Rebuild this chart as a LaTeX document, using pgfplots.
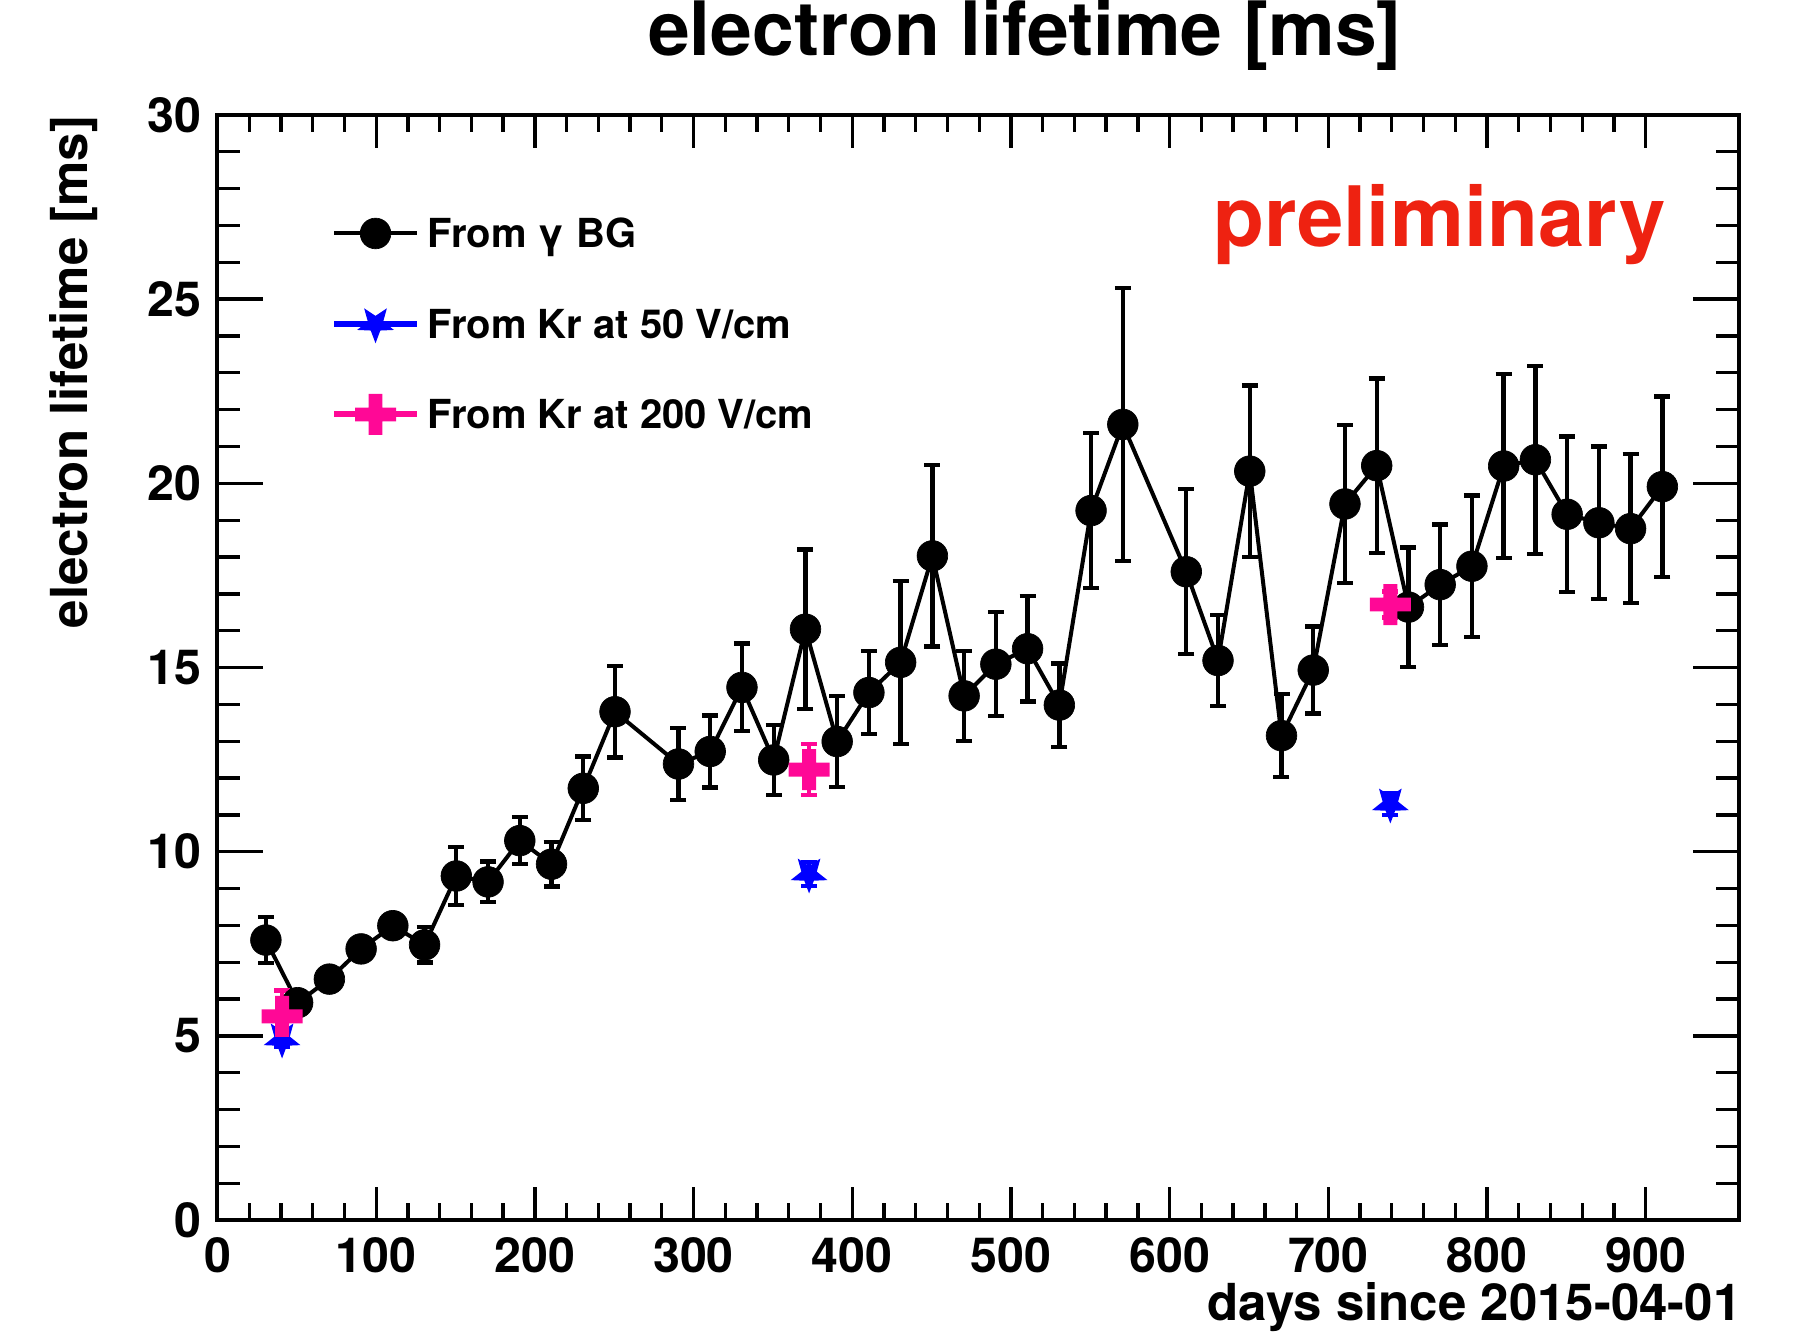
\documentclass[border=0pt]{standalone}
\usepackage{fontspec}
\setmainfont{TeX Gyre Heros}
\usepackage{pgfplots}
\usepackage{pgfplotstable}
\pgfplotsset{compat=1.18}

\definecolor{krblue}{RGB}{0,0,255}
\definecolor{krpink}{RGB}{255,8,150}
\definecolor{prelred}{RGB}{238,34,17}

% filled five-pointed star, tip pointing down
\pgfdeclareplotmark{dstar}{%
  \pgfpathmoveto{\pgfpointpolar{-90}{\pgfplotmarksize}}%
  \pgfpathlineto{\pgfpointpolar{-54}{0.42\pgfplotmarksize}}%
  \pgfpathlineto{\pgfpointpolar{-18}{\pgfplotmarksize}}%
  \pgfpathlineto{\pgfpointpolar{18}{0.42\pgfplotmarksize}}%
  \pgfpathlineto{\pgfpointpolar{54}{\pgfplotmarksize}}%
  \pgfpathlineto{\pgfpointpolar{90}{0.42\pgfplotmarksize}}%
  \pgfpathlineto{\pgfpointpolar{126}{\pgfplotmarksize}}%
  \pgfpathlineto{\pgfpointpolar{162}{0.42\pgfplotmarksize}}%
  \pgfpathlineto{\pgfpointpolar{198}{\pgfplotmarksize}}%
  \pgfpathlineto{\pgfpointpolar{234}{0.42\pgfplotmarksize}}%
  \pgfpathclose
  \pgfusepathqfill}

% filled plus-shaped cross
\pgfdeclareplotmark{fcross}{%
  \pgfpathmoveto{\pgfqpoint{-0.34\pgfplotmarksize}{-\pgfplotmarksize}}%
  \pgfpathlineto{\pgfqpoint{0.34\pgfplotmarksize}{-\pgfplotmarksize}}%
  \pgfpathlineto{\pgfqpoint{0.34\pgfplotmarksize}{-0.34\pgfplotmarksize}}%
  \pgfpathlineto{\pgfqpoint{\pgfplotmarksize}{-0.34\pgfplotmarksize}}%
  \pgfpathlineto{\pgfqpoint{\pgfplotmarksize}{0.34\pgfplotmarksize}}%
  \pgfpathlineto{\pgfqpoint{0.34\pgfplotmarksize}{0.34\pgfplotmarksize}}%
  \pgfpathlineto{\pgfqpoint{0.34\pgfplotmarksize}{\pgfplotmarksize}}%
  \pgfpathlineto{\pgfqpoint{-0.34\pgfplotmarksize}{\pgfplotmarksize}}%
  \pgfpathlineto{\pgfqpoint{-0.34\pgfplotmarksize}{0.34\pgfplotmarksize}}%
  \pgfpathlineto{\pgfqpoint{-\pgfplotmarksize}{0.34\pgfplotmarksize}}%
  \pgfpathlineto{\pgfqpoint{-\pgfplotmarksize}{-0.34\pgfplotmarksize}}%
  \pgfpathlineto{\pgfqpoint{-0.34\pgfplotmarksize}{-0.34\pgfplotmarksize}}%
  \pgfpathclose
  \pgfusepathqfill}

% lifetime from gamma background: day, lifetime [ms], error
\pgfplotstableread{
x      y      e
30.5   7.60   0.62
50.5   5.90   0.22
70.5   6.54   0.24
90.5   7.36   0.26
110.5  7.99   0.28
130.5  7.47   0.48
150.5  9.34   0.79
170.5  9.18   0.55
190.5  10.30  0.64
210.5  9.66   0.61
230.5  11.72  0.86
250.5  13.80  1.24
290.5  12.38  0.98
310.5  12.72  0.98
330.5  14.46  1.19
350.5  12.49  0.95
370.5  16.04  2.16
390.5  12.99  1.23
410.5  14.32  1.13
430.5  15.14  2.21
450.5  18.03  2.46
470.5  14.23  1.22
490.5  15.09  1.41
510.5  15.51  1.43
530.5  13.98  1.13
550.5  19.26  2.11
570.5  21.60  3.70
610.5  17.60  2.24
630.5  15.19  1.24
650.5  20.33  2.33
670.5  13.15  1.13
690.5  14.93  1.18
710.5  19.44  2.14
730.5  20.48  2.37
750.5  16.64  1.62
770.5  17.25  1.63
790.5  17.75  1.92
810.5  20.47  2.50
830.5  20.64  2.55
850.5  19.16  2.11
870.5  18.93  2.07
890.5  18.77  2.02
910.5  19.91  2.45
}\gammabg

% lifetime from Kr at 50 V/cm
\pgfplotstableread{
x      y      e
40.7   4.91   0.20
372.8  9.39   0.33
739.1  11.29  0.30
}\krlow

% lifetime from Kr at 200 V/cm
\pgfplotstableread{
x      y      e
40.7   5.53   0.70
372.8  12.23  0.69
739.1  16.71  0.35
}\krhigh

\begin{document}
\begin{tikzpicture}
\useasboundingbox (-65.25pt,-33.6pt) rectangle (475.65pt,366pt);

\pgfplotsset{
  lifetimeframe/.style={
    at={(0pt,0pt)}, anchor=south west,
    scale only axis, width=456.54pt, height=331.5pt,
    xmin=0, xmax=959, ymin=0, ymax=30,
    axis line style={line width=1.2pt},
    tick align=inside,
    every tick/.style={black, line width=1pt},
    /pgf/number format/assume math mode=true,
    tick label style={font=\bfseries\fontsize{14.5}{17}\selectfont},
  },
  errcaps/.style={
    error bars/.cd, y dir=both, y explicit,
    error bar style={line width=1.3pt},
    error mark=|,
    error mark options={line width=1.3pt, mark size=2.4pt}},
}

% y ticks (longer than the x ticks)
\begin{axis}[
  lifetimeframe,
  xtick=\empty,
  ytick={0,5,...,30}, minor y tick num=4,
  major tick length=13.8pt, minor tick length=6.9pt,
  yticklabel style={anchor=east, inner sep=0pt, xshift=-4.65pt},
]
\end{axis}

\begin{axis}[
  lifetimeframe,
  ytick=\empty,
  xtick={0,100,...,900}, minor x tick num=4,
  major tick length=9.9pt, minor tick length=5.1pt,
  xticklabel style={anchor=base, inner sep=0pt, yshift=-15.6pt},
  title={electron lifetime [ms]},
  title style={at={(axis description cs:0.5306,1.0362)}, anchor=base,
    inner sep=0pt, font=\bfseries\fontsize{22.5}{27}\selectfont},
  xlabel={days since 2015-04-01},
  xlabel style={at={(axis description cs:1.002,-0.091)}, anchor=base east,
    inner sep=0pt, font=\bfseries\fontsize{15.3}{18}\selectfont},
  ylabel={electron lifetime [ms]},
  ylabel style={at={(axis description cs:-0.0851,1.0)}, anchor=base east,
    inner sep=0pt, font=\bfseries\fontsize{15.3}{18}\selectfont},
  legend cell align=left,
  legend style={at={(axis description cs:0.0746,0.9124)}, anchor=north west,
    draw=none, fill=none, inner sep=0pt, outer sep=0pt,
    row sep=14.15pt, column sep=2.3pt,
    font=\bfseries\fontsize{12}{14}\selectfont,
    nodes={inner sep=0pt, text height=8.6pt, text depth=0pt}},
]

\addplot[black, line width=1.2pt, mark=*, mark size=4.6pt,
  mark options={solid, line width=0.2pt},
  legend image code/.code={
    \path[draw=none, fill=none] (0pt,-6.5pt) rectangle (24.9pt,6.5pt);
    \draw[black, line width=1.2pt] (0pt,0pt) -- (24.9pt,0pt);
    \draw[black, mark=*, mark size=4.6pt, mark options={line width=0.2pt}]
      plot coordinates {(12.45pt,0pt)};},
  errcaps]
  table[x=x, y=y, y error=e] {\gammabg};
\addlegendentry{From γ BG}

\addplot[krblue, only marks, mark=dstar, mark size=5.8pt,
  legend image code/.code={
    \path[draw=none, fill=none] (0pt,-6.5pt) rectangle (24.9pt,6.5pt);
    \draw[krblue, line width=1.8pt] (0pt,0pt) -- (24.9pt,0pt);
    \draw[krblue, mark=dstar, mark size=5.8pt] plot coordinates {(12.45pt,0pt)};},
  errcaps]
  table[x=x, y=y, y error=e] {\krlow};
\addlegendentry{From Kr at 50 V/cm}

\addplot[krpink, only marks, mark=fcross, mark size=6.15pt,
  legend image code/.code={
    \path[draw=none, fill=none] (0pt,-6.5pt) rectangle (24.9pt,6.5pt);
    \draw[krpink, line width=1.8pt] (0pt,0pt) -- (24.9pt,0pt);
    \draw[krpink, mark=fcross, mark size=6.15pt] plot coordinates {(12.45pt,0pt)};},
  errcaps]
  table[x=x, y=y, y error=e] {\krhigh};
\addlegendentry{From Kr at 200 V/cm}

\node[anchor=base west, inner sep=0pt, text=prelred,
  font=\bfseries\fontsize{25}{30}\selectfont]
  at (axis description cs:0.6542,0.8814) {preliminary};
\end{axis}
\end{tikzpicture}
\end{document}
